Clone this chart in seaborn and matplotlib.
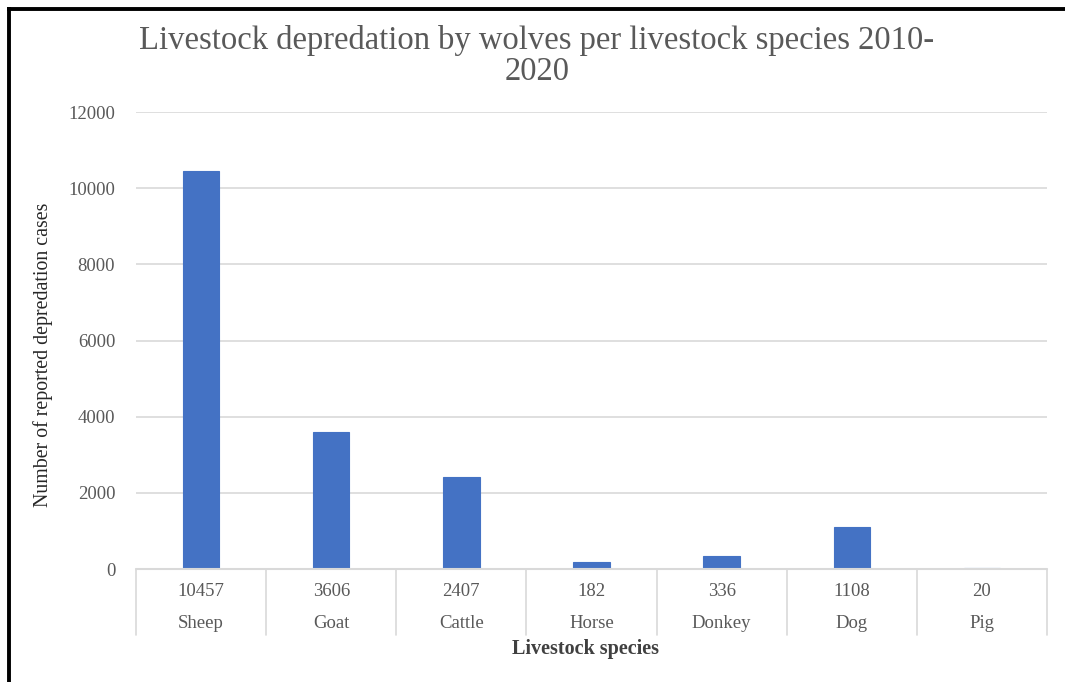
import matplotlib
matplotlib.use("Agg")
import matplotlib.pyplot as plt
import seaborn as sns
import pandas as pd
from matplotlib.lines import Line2D
import matplotlib.transforms as mtransforms

species = ["Sheep", "Goat", "Cattle", "Horse", "Donkey", "Dog", "Pig"]
cases = [10457, 3606, 2407, 182, 336, 1108, 20]
y_ticks = [0, 2000, 4000, 6000, 8000, 10000, 12000]
title = "Livestock depredation by wolves per livestock species 2010-\n2020"
x_label = "Livestock species"
y_label = "Number of reported depredation cases"

sns.set_theme(style="white")
plt.rcParams['font.family'] = ['Liberation Serif', 'DejaVu Serif']

W, H = 1065, 682
fig = plt.figure(figsize=(W / 100, H / 100), dpi=100)
fig.patch.set_facecolor("white")

x0, x1, y0, y1 = 136, 1047, 569, 112
ax = fig.add_axes([x0 / W, 1 - y0 / H, (x1 - x0) / W, (y0 - y1) / H])

df = pd.DataFrame({"species": species, "cases": cases})
sns.barplot(data=df, x="species", y="cases", color="#4472C4", width=0.28,
            saturation=1, ax=ax, zorder=3, linewidth=0.8, edgecolor="#4472C4")

ax.set_ylim(0, 12000)
ax.set_yticks(y_ticks)
ax.set_yticklabels([str(v) for v in y_ticks], fontsize=13.5, color="#595959")
ax.tick_params(axis="y", length=0, pad=15)
ax.set_xlim(-0.5, len(species) - 0.5)
ax.set_xticks([])
ax.set_xlabel("")
ax.set_ylabel("")
ax.grid(axis="y", color="#d9d9d9", linewidth=1.2, zorder=0)
ax.set_axisbelow(True)
for s in ax.spines.values():
    s.set_visible(False)

# data table below the axis
row_h = (y0 - y1)
tr = mtransforms.blended_transform_factory(ax.transData, ax.transAxes)
bottom = -(635 - y0) / row_h
ax.add_line(Line2D([-0.5, len(species) - 0.5], [0, 0], transform=tr,
                   color="#d9d9d9", lw=1.5, clip_on=False, zorder=4))
for i in range(len(species) + 1):
    ax.add_line(Line2D([i - 0.5, i - 0.5], [0, bottom], transform=tr,
                       color="#d9d9d9", lw=1.2, clip_on=False))
for i, (sp, v) in enumerate(zip(species, cases)):
    ax.text(i, -(591 - y0) / row_h, str(v), transform=tr, ha="center",
            va="center", fontsize=13.5, color="#595959")
    ax.text(i, -(624 - y0) / row_h, sp, transform=tr, ha="center",
            va="center", fontsize=13.5, color="#595959")

fig.text(585 / W, 1 - 649 / H, x_label, ha="center", va="center",
         fontsize=14.5, fontweight="bold", color="#404040")
fig.text(43 / W, 1 - 355 / H, y_label, ha="center", va="center",
         rotation=90, fontsize=14.3, color="#262626")
fig.text(537 / W, 1 - 56 / H, title, ha="center", va="center",
         fontsize=23.5, color="#595959", linespacing=1.02)

# black frame (left and top)
fig.add_artist(Line2D([8.5 / W, 8.5 / W], [0, 1 - 7 / H], transform=fig.transFigure,
                      color="black", lw=2.8, solid_capstyle="butt"))
fig.add_artist(Line2D([7 / W, 1], [1 - 8.5 / H, 1 - 8.5 / H], transform=fig.transFigure,
                      color="black", lw=2.8, solid_capstyle="butt"))

fig.savefig("out.png", dpi=100, facecolor="white")
